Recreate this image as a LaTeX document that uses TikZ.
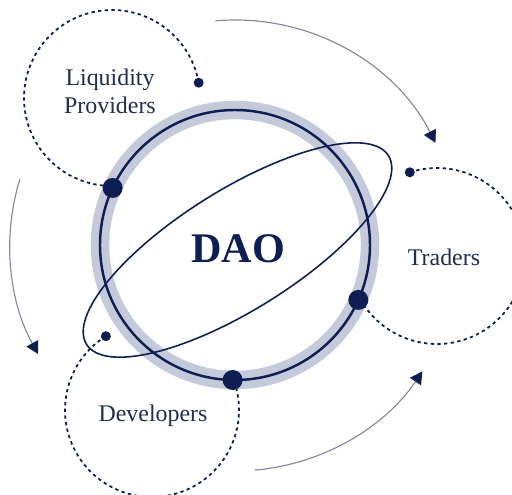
\documentclass[tikz,border=0pt]{standalone}
\usepackage{fontspec}
\setmainfont{Liberation Serif}
\usepackage{tikz}
\usetikzlibrary{arrows.meta}
\definecolor{navy}{RGB}{14,30,82}
\definecolor{ringgray}{RGB}{196,202,218}
\definecolor{flowgray}{RGB}{132,138,158}
\definecolor{labelink}{RGB}{36,44,76}
\tikzset{%
  ring band/.style={
    draw=ringgray,
    line width=10.5pt
  },
  ring line/.style={
    draw=navy,
    line width=1.4pt
  },
  orbit/.style={
    draw=navy,
    line width=0.9pt
  },
  big dot/.style={
    circle,
    fill=navy,
    inner sep=0pt,
    minimum size=0.4cm
  },
  small dot/.style={
    circle,
    fill=navy,
    inner sep=0pt,
    minimum size=0.2cm
  },
  member arc/.style={
    draw=navy,
    line width=1pt,
    dash pattern=on 1.9pt off 1.9pt
  },
  member/.style={
    text=labelink,
    align=center,
    font=\fontsize{13.6}{16}\selectfont
  },
  flow/.style={
    draw=flowgray,
    line width=0.65pt,
    -{Triangle[length=7pt,width=7.5pt,color=navy]}
  },
}

\begin{document}
\begin{tikzpicture}[x=0.02cm, y=0.02cm]
      \useasboundingbox (0,0) rectangle (512,495);

      % DAO ring
      \coordinate (c) at (235,250);
      \draw[ring band] (c) circle[radius=135];

      % Member circles
      \coordinate (lpc) at (112,397);
      \coordinate (trc) at (437,239);
      \coordinate (devc) at (152,85);
      \node[small dot] (lpsmall) at ([shift={(10:88)}]lpc) {};
      \node[small dot] (trsmall) at ([shift={(108:88)}]trc) {};
      \node[small dot] (devsmall) at ([shift={(122:87)}]devc) {};
      \draw[member arc] (lpsmall) arc[start angle=10, end angle=270, radius=88];
      \draw[member arc] (trsmall) arc[start angle=108, end angle=-151, radius=88];
      \draw[member arc] (devsmall) arc[start angle=122, end angle=380, radius=87];

      % Ring and orbit
      \draw[ring line] (c) circle[radius=135];
      \coordinate (o) at (237.5,245);
      \draw[orbit, rotate around={32:(o)}] (o) ellipse[x radius=178, y radius=60];

      % Dots on the ring
      \node[big dot] (lpdot) at ([shift={(155:135)}]c) {};
      \node[big dot] (trdot) at ([shift={(-24:135)}]c) {};
      \node[big dot] (devdot) at ([shift={(-91:135)}]c) {};

      % Labels
      \node[text=navy, font=\fontsize{24}{28}\selectfont\bfseries] (dao) at (238,246) {DAO};
      \node[member] (lp) at (110,404) {Liquidity\\Providers};
      \node[member] (tr) at (444,238) {Traders};
      \node[member] (dev) at (153,79) {Developers};

      % Flow arrows
      \draw[flow] ([shift={(95:225)}]c) arc[start angle=95, end angle=27, radius=225];
      \draw[flow] ([shift={(163:225)}]c) arc[start angle=163, end angle=209, radius=225];
      \draw[flow] ([shift={(-85:226)}]c) arc[start angle=-85, end angle=-34, radius=226];
    \end{tikzpicture}
\end{document}
